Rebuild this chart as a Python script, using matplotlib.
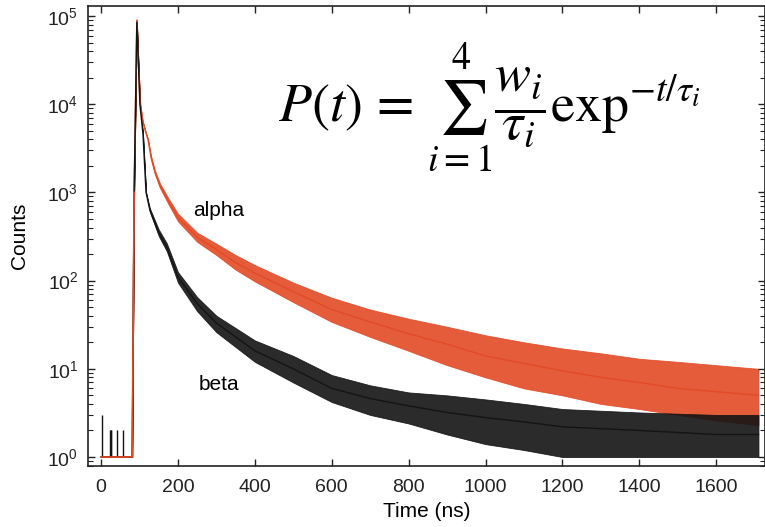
import numpy as np
import matplotlib
matplotlib.use('Agg')
from matplotlib import pyplot as plt
from matplotlib.ticker import LogLocator, MultipleLocator, NullFormatter

plt.rcParams['font.family'] = ['Liberation Sans', 'DejaVu Sans']
plt.rcParams['mathtext.fontset'] = 'custom'
plt.rcParams['mathtext.rm'] = 'Liberation Sans'

# alpha decay (red): sample times (ns), trend and noise envelope
alpha_t = [0, 81, 86, 93, 97, 102, 108, 115, 122, 130, 140, 153, 175, 200, 250, 300, 350, 400,
           500, 600, 700, 800, 900, 1000, 1100, 1200, 1300, 1400, 1500, 1600, 1710]
alpha_mid = [1, 1, 1e3, 9e4, 3e4, 1e4, 6500, 5000, 4000, 2500, 1700, 1200, 800, 520, 310, 225, 160, 122,
             75, 47, 34, 25, 19, 14, 11.5, 9.5, 8, 7, 6, 5.5, 5]
alpha_lo = [1, 1, 1e3, 9e4, 3e4, 1e4, 6500, 5000, 3900, 2400, 1620, 1130, 740, 470, 275, 195, 133, 98,
            57, 34, 23, 16, 11, 8, 6, 5, 4, 3.5, 3, 2.6, 2.3]
alpha_hi = [1, 1, 1e3, 9e4, 3e4, 1e4, 6500, 5000, 4100, 2600, 1780, 1270, 860, 575, 350, 262, 195, 150,
            95, 64, 47, 37, 30, 24, 20, 17, 15, 13, 12, 11, 10]

# beta decay (black)
beta_t = [0, 81, 86, 93, 97, 101, 109, 117, 127, 150, 171, 200, 250, 300, 400, 500, 600, 700,
          800, 900, 1000, 1100, 1200, 1400, 1600, 1710]
beta_mid = [1, 1, 1e3, 8.5e4, 3e4, 1e4, 4600, 1000, 630, 350, 240, 110, 55, 33, 16, 10, 6, 4.6,
            3.8, 3.2, 2.8, 2.5, 2.2, 2, 1.8, 1.8]
beta_lo = [1, 1, 1e3, 8.5e4, 3e4, 1e4, 4600, 1000, 600, 320, 215, 95, 45, 26, 12, 7, 4.2, 3,
           2.4, 1.8, 1.4, 1.2, 1, 1, 1, 1]
beta_hi = [1, 1, 1e3, 8.5e4, 3e4, 1e4, 4600, 1000, 660, 380, 265, 125, 65, 40, 21, 14, 8.5, 6.5,
           5.4, 5, 4.5, 4, 3.5, 3.2, 3, 3]

# single-count spikes before the pulse
spike_t = [3, 23, 25, 27, 42, 57]
spike_h = [3, 2, 2, 2, 2, 2]

red = '#e34a26'
black = '#141414'

fig = plt.figure(figsize=(7.65, 5.27), dpi=100)
ax = fig.add_axes([88 / 765, 61 / 527, 677 / 765, 460 / 527])

ax.fill_between(alpha_t, alpha_lo, alpha_hi, color=red, lw=0.6, alpha=0.9)
ax.plot(alpha_t, alpha_mid, color=red, lw=1.0)
ax.fill_between(beta_t, beta_lo, beta_hi, color=black, lw=0.6, alpha=0.9)
ax.plot(beta_t, beta_mid, color=black, lw=1.0)
ax.vlines(spike_t, 1, spike_h, color=black, lw=1.0)
ax.plot(alpha_t[:3], alpha_mid[:3], color=red, lw=1.2)

ax.set_yscale('log')
ax.set_xlim(-34, 1727)
ax.set_ylim(10 ** -0.102, 10 ** 5.114)

ax.xaxis.set_major_locator(MultipleLocator(200))
ax.yaxis.set_major_locator(LogLocator(base=10, numticks=10))
ax.yaxis.set_minor_locator(LogLocator(base=10, subs=np.arange(2, 10), numticks=20))
ax.yaxis.set_minor_formatter(NullFormatter())

ax.tick_params(which='both', direction='in', top=True, right=True, colors='#222222')
ax.tick_params(which='major', length=5, width=1, labelsize=14)
ax.tick_params(axis='x', which='major', pad=9)
ax.tick_params(axis='y', which='major', pad=7)
ax.tick_params(which='minor', length=3.5, width=0.8)
for s in ax.spines.values():
    s.set_linewidth(1.2)
    s.set_color('#222222')

ax.set_xlabel('Time (ns)', fontsize=15, labelpad=5)
ax.set_ylabel('Counts', fontsize=15, labelpad=13)

ax.text(307, 10 ** 2.79, 'alpha', fontsize=15, ha='center', va='center')
ax.text(307, 10 ** 0.82, 'beta', fontsize=15, ha='center', va='center')

fig.text(489 / 765, 1 - 108 / 527,
         r'$P(t)\,=\,\sum_{i=1}^{4}\dfrac{w_i}{\tau_i}\mathrm{exp}^{-t/\tau_i}$',
         fontsize=39, ha='center', va='center', math_fontfamily='stix')

plt.savefig('out.png', dpi=100)
